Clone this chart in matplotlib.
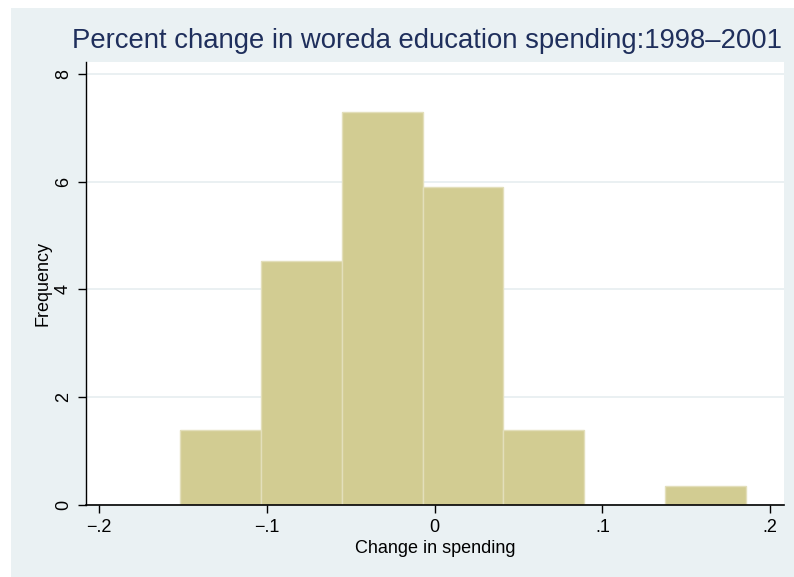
import numpy as np
import matplotlib.pyplot as plt
from matplotlib.patches import Rectangle

plt.rcParams['font.family'] = ['Liberation Sans', 'DejaVu Sans']

# histogram of spending change (7 bins)
bin_left = -0.1518
bin_width = 0.0482
freq = [1.39, 4.52, 7.30, 5.90, 1.39, 0.0, 0.35]

xticks = [-0.2, -0.1, 0, 0.1, 0.2]
xticklabels = ["\u2212.2", "\u2212.1", "0", ".1", ".2"]
yticks = [0, 2, 4, 6, 8]

bg = "#eaf1f3"
bar_col = "#d2cc92"
navy = "#1f2f5c"

fig = plt.figure(figsize=(7.94, 5.77), dpi=100)
fig.patches.append(Rectangle((11/794, 0), 1, (577-8)/577, transform=fig.transFigure,
                             facecolor=bg, edgecolor="none", zorder=-1))

ax = fig.add_axes([86/794, (577-505)/577, (784-86)/794, (505-62)/577])
ax.set_facecolor("white")

edges = bin_left + bin_width*np.arange(len(freq))
ax.bar(edges, freq, width=bin_width, align='edge', color=bar_col,
       edgecolor="#e3dfbb", linewidth=1.0, zorder=2)

ax.set_xlim(-0.2078, 0.2082)
ax.set_ylim(0, 8.22)
ax.set_yticks(yticks)
ax.set_yticklabels([str(t) for t in yticks], rotation=90, va='center')
ax.set_xticks(xticks)
ax.set_xticklabels(xticklabels)
ax.yaxis.grid(True, color="#e6eef0", linewidth=1.2, zorder=0)
ax.set_axisbelow(True)

for s in ["top", "right"]:
    ax.spines[s].set_visible(False)
ax.spines["left"].set_linewidth(1.0)
ax.spines["bottom"].set_linewidth(1.2)
ax.tick_params(axis='both', length=6, width=1, labelsize=13, colors="black", pad=4)

ax.set_xlabel("Change in spending", fontsize=13, labelpad=3)
ax.set_ylabel("Frequency", fontsize=13)
ax.yaxis.set_label_coords(-0.05, 0.5)

fig.text(72/794, 1 - 41/577, "Percent change in woreda education spending:1998\u20132001",
         fontsize=19.8, color=navy, va='center', ha='left')

fig.savefig("out.png", dpi=100, facecolor="white")
